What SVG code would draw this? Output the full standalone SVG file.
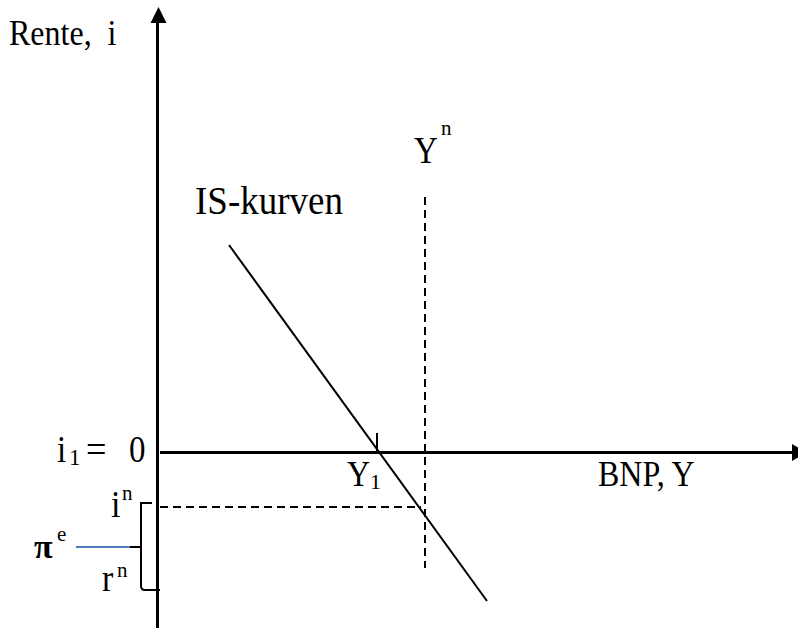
<svg xmlns="http://www.w3.org/2000/svg" width="798" height="628" viewBox="0 0 798 628" xml:space="preserve">
<style>
text{font-family:"Liberation Serif","Times New Roman",serif;fill:#000;white-space:pre}
.lbl{font-size:32px}
.sup{font-size:21px}
.axis{stroke:#000;stroke-width:3;fill:none}
.ln{stroke:#000;stroke-width:2;fill:none}
.dash{stroke:#000;stroke-width:2;stroke-dasharray:8 5;fill:none}
</style>
<rect width="798" height="628" fill="#fff"/>
<g id="connectors">
<line class="axis" x1="157.5" y1="628" x2="157.5" y2="20"/>
<polygon points="150.5,23 158.5,7 166.5,23" fill="#000"/>
<line class="axis" x1="160" y1="452.5" x2="794" y2="452.5"/>
<polygon points="792,444 807,452.5 792,461" fill="#000"/>
<line class="ln" x1="229" y1="245" x2="487" y2="601"/>
<line class="dash" x1="425" y1="197" x2="425" y2="568"/>
<line class="dash" x1="160" y1="507" x2="421" y2="507"/>
<line class="ln" x1="377" y1="433" x2="377" y2="452"/>
<path class="ln" d="M152,503 L141,503 L141,586 Q141,590 145,590 L160,590"/>
<line class="ln" x1="130" y1="547" x2="141" y2="547"/>
<line x1="76" y1="547" x2="130" y2="547" stroke="#4a7ebb" stroke-width="2"/>
</g>
<g id="label-rente"><text class="lbl" transform="translate(9,45) scale(1,1.12)">Rente,  i</text></g>
<g id="label-yn"><text class="lbl" transform="translate(414,163) scale(1,1.12)" style="font-size:33px">Y</text><text class="sup" x="441" y="135">n</text></g>
<g id="label-is"><text class="lbl" transform="translate(195,214) scale(1,1.1)" style="font-size:37px">IS-kurven</text></g>
<g id="label-i1"><text class="lbl" transform="translate(57,462) scale(1,1.12)" style="font-size:33px">i</text><text x="69" y="465" style="font-size:23px">1</text><text class="lbl" transform="translate(86,462) scale(1.1,1.12)" style="font-size:33px">=</text><text class="lbl" transform="translate(129,462) scale(1,1.12)" style="font-size:33px">0</text></g>
<g id="label-y1"><text class="lbl" transform="translate(347,486) scale(1,1.12)">Y</text><text x="370" y="489" style="font-size:22px">1</text></g>
<g id="label-bnp"><text class="lbl" transform="translate(598,486) scale(1,1.12)">BNP, Y</text></g>
<g id="label-in"><text class="lbl" transform="translate(111,517) scale(1,1.1)" style="font-size:34px">i</text><text class="sup" x="122" y="500">n</text></g>
<g id="label-pie"><text class="lbl" x="34" y="558" style="font-size:34px;font-weight:bold">π</text><text class="sup" x="57" y="541">e</text></g>
<g id="label-rn"><text class="lbl" transform="translate(102,591) scale(1,1.1)" style="font-size:34px">r</text><text class="sup" x="117" y="577">n</text></g>
</svg>
